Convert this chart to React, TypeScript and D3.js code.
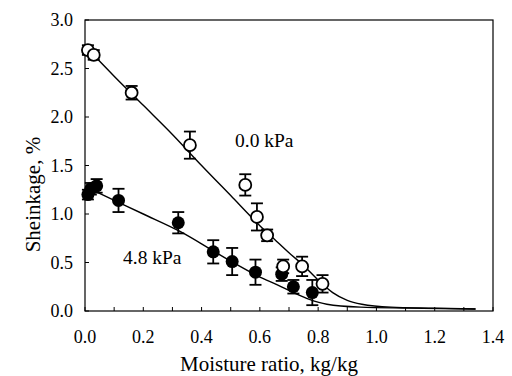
import React from "react";
import * as d3 from "d3";

// Measured shrinkage, no load (open circles)
const openX = [0.01, 0.03, 0.16, 0.36, 0.55, 0.59, 0.625, 0.68, 0.745, 0.815];
const openY = [2.69, 2.64, 2.25, 1.71, 1.3, 0.97, 0.78, 0.46, 0.46, 0.28];
const openErr = [0.05, 0.05, 0.07, 0.14, 0.11, 0.14, 0.06, 0.07, 0.1, 0.09];

// Measured shrinkage, 4.8 kPa load (filled circles)
const filledX = [0.01, 0.02, 0.04, 0.115, 0.32, 0.44, 0.505, 0.585, 0.675, 0.715, 0.78];
const filledY = [1.2, 1.26, 1.29, 1.14, 0.91, 0.61, 0.51, 0.4, 0.38, 0.25, 0.19];
const filledErr = [0.05, 0.06, 0.07, 0.12, 0.11, 0.12, 0.14, 0.13, 0.07, 0.07, 0.13];

// Fitted curves
const openFitX = [0.01, 0.1, 0.2, 0.3, 0.4, 0.5, 0.6, 0.65, 0.7, 0.75, 0.8, 0.85, 0.9, 0.95, 1.05, 1.2, 1.34];
const openFitY = [2.7, 2.42, 2.12, 1.82, 1.5, 1.19, 0.88, 0.74, 0.6, 0.47, 0.32, 0.19, 0.11, 0.07, 0.04, 0.03, 0.02];
const filledFitX = [0.03, 0.115, 0.2, 0.326, 0.44, 0.52, 0.6, 0.66, 0.715, 0.77, 0.83, 0.945, 1.1, 1.34];
const filledFitY = [1.24, 1.12, 1.0, 0.82, 0.62, 0.48, 0.35, 0.27, 0.19, 0.12, 0.07, 0.04, 0.03, 0.02];

const xTicks = [0, 0.2, 0.4, 0.6, 0.8, 1.0, 1.2, 1.4];
const xMinorTicks = d3.range(0, 15).map((i) => i / 10);
const yTicks = [0, 0.5, 1.0, 1.5, 2.0, 2.5, 3.0];

const FONT = "Liberation Serif, DejaVu Serif, serif";
const txt = { fontFamily: FONT };

export default function App() {
  const W = 512;
  const H = 376;
  const x = d3.scaleLinear().domain([0, 1.4]).range([85, 493]);
  const y = d3.scaleLinear().domain([0, 3]).range([311, 20]);

  const line = d3
    .line<[number, number]>()
    .x((d) => x(d[0]))
    .y((d) => y(d[1]))
    .curve(d3.curveMonotoneX);

  const openFit = openFitX.map((v, i) => [v, openFitY[i]] as [number, number]);
  const filledFit = filledFitX.map((v, i) => [v, filledFitY[i]] as [number, number]);

  const errBar = (xv: number, yv: number, e: number, key: string) => {
    const cx = x(xv);
    const y1 = y(yv + e);
    const y2 = y(yv - e);
    return (
      <g key={key} stroke="#000" strokeWidth={1.8}>
        <line x1={cx} x2={cx} y1={y1} y2={y2} />
        <line x1={cx - 6} x2={cx + 6} y1={y1} y2={y1} />
        <line x1={cx - 6} x2={cx + 6} y1={y2} y2={y2} />
      </g>
    );
  };

  return (
    <svg
      width={W}
      height={H}
      style={{ position: "absolute", left: 0, top: 0, background: "#fff", fontFamily: FONT }}
    >
      {/* frame */}
      <rect x={x(0)} y={y(3)} width={x(1.4) - x(0)} height={y(0) - y(3)} fill="none" stroke="#000" strokeWidth={1.2} />

      {/* x ticks (inward) */}
      {xMinorTicks.map((t) => (
        <line key={"xt" + t} x1={x(t)} x2={x(t)} y1={y(0)} y2={y(0) - 4} stroke="#000" strokeWidth={1} />
      ))}
      {xTicks.map((t) => (
        <text key={"xl" + t} x={x(t)} y={343} fontSize={18} textAnchor="middle" fill="#000" style={txt}>
          {t.toFixed(1)}
        </text>
      ))}

      {/* y ticks (inward) */}
      {yTicks.map((t) => (
        <g key={"yt" + t}>
          <line x1={x(0)} x2={x(0) + 4} y1={y(t)} y2={y(t)} stroke="#000" strokeWidth={1} />
          <text x={73} y={y(t) + 6} fontSize={18} textAnchor="end" fill="#000" style={txt}>
            {t.toFixed(1)}
          </text>
        </g>
      ))}

      {/* axis titles */}
      <text x={269} y={371} fontSize={21} textAnchor="middle" fill="#000" style={txt}>
        Moisture ratio, kg/kg
      </text>
      <text
        transform={`translate(40,${y(1.2)}) rotate(-90)`}
        fontSize={21}
        textAnchor="middle"
        fill="#000"
        style={txt}
      >
        Sheinkage, %
      </text>

      {/* fitted curves */}
      <path d={line(openFit) ?? ""} fill="none" stroke="#000" strokeWidth={1.4} />
      <path d={line(filledFit) ?? ""} fill="none" stroke="#000" strokeWidth={1.4} />

      {/* error bars */}
      {openX.map((v, i) => errBar(v, openY[i], openErr[i], "oe" + i))}
      {filledX.map((v, i) => errBar(v, filledY[i], filledErr[i], "fe" + i))}

      {/* markers */}
      {filledX.map((v, i) => (
        <circle key={"fm" + i} cx={x(v)} cy={y(filledY[i])} r={6.5} fill="#000" />
      ))}
      {openX.map((v, i) => (
        <circle key={"om" + i} cx={x(v)} cy={y(openY[i])} r={6} fill="#fff" stroke="#000" strokeWidth={1.8} />
      ))}

      {/* series labels */}
      <text x={235} y={147} fontSize={19.5} fill="#000" style={txt}>
        0.0 kPa
      </text>
      <text x={123} y={264} fontSize={19.5} fill="#000" style={txt}>
        4.8 kPa
      </text>
    </svg>
  );
}
